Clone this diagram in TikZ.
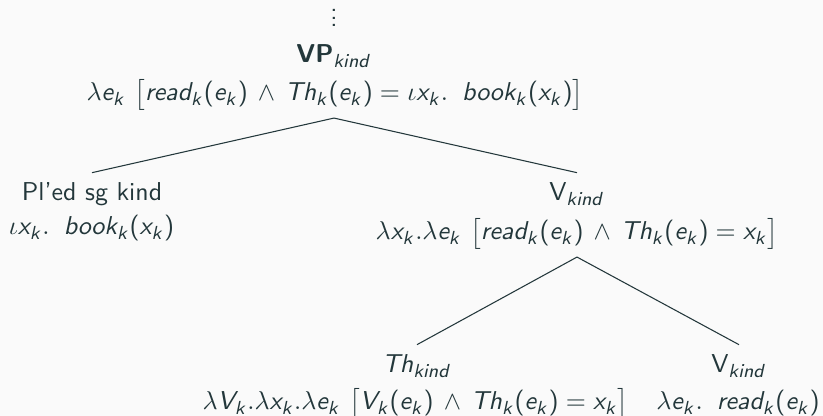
\documentclass[tikz,border=0pt,11pt]{standalone}
\usepackage{amsmath}
\usepackage{tikz}
% sans serif math: upright symbols and italic letters from cmss
\DeclareSymbolFont{operators}{OT1}{cmss}{m}{n}
\DeclareSymbolFont{sfitalic}{OT1}{cmss}{m}{it}
\newcount\lettercnt
\lettercnt=`a
\loop
  \mathcode\lettercnt=\numexpr "7000+\symsfitalic*"100+\lettercnt\relax
  \advance\lettercnt by 1
\ifnum\lettercnt<`\{ \repeat
\lettercnt=`A
\loop
  \mathcode\lettercnt=\numexpr "7000+\symsfitalic*"100+\lettercnt\relax
  \advance\lettercnt by 1
\ifnum\lettercnt<`\[ \repeat
\newcommand{\conj}{\,\wedge\,}
\newcommand{\dotgap}{\hspace{6pt}}
\definecolor{mDarkTeal}{HTML}{23373B}
\definecolor{mBack}{HTML}{FAFAFA}
\tikzset{
  cat/.style={anchor=base, inner sep=4.2pt, font=\sffamily, text=mDarkTeal},
  sem/.style={anchor=base, inner sep=3.2pt, font=\sffamily, text=mDarkTeal},
  branch/.style={draw=mDarkTeal, line width=0.45pt},
}

\begin{document}
\begin{tikzpicture}[x=0.4237pt, y=-0.4237pt]
  % frame
  \fill[mBack] (0,0) rectangle (823,416);
  \useasboundingbox (0,0) rectangle (823,416);
  % root VP
  \node[cat, inner sep=0pt] (dots) at (334,27) {\vbox{\baselineskip=3.2pt\lineskiplimit=0pt\hbox{.}\hbox{.}\hbox{.}}};
  \node[cat] (vp) at (334,63) {\textbf{VP}$_{kind}$};
  \node[sem] (vpsem) at (335,101) {$\lambda e_k\ \big[read_k(e_k)\conj Th_k(e_k) = \iota x_k.\dotgap book_k(x_k)\big]$};
  % left daughter
  \node[cat] (pled) at (92,201) {Pl'ed sg kind};
  \node[sem] (pledsem) at (91.5,235) {$\iota x_k.\dotgap book_k(x_k)$};
  % right daughter
  \node[cat] (vk) at (577,201) {V$_{kind}$};
  \node[sem] (vksem) at (577,240) {$\lambda x_k.\lambda e_k\ \big[read_k(e_k)\conj Th_k(e_k) = x_k\big]$};
  % lower daughters
  \node[cat] (th) at (417,373) {$Th_{kind}$};
  \node[sem] (thsem) at (415.5,410) {$\lambda V_k.\lambda x_k.\lambda e_k\ \big[V_k(e_k)\conj Th_k(e_k) = x_k\big]$};
  \node[cat] (vlow) at (739,373) {V$_{kind}$};
  \node[sem] (vlowsem) at (738,410) {$\lambda e_k.\dotgap read_k(e_k)$};
  % branches
  \draw[branch] (vp |- vpsem.south) -- (pled.north);
  \draw[branch] (vp |- vpsem.south) -- (vk.north);
  \draw[branch] (vk |- vksem.south) -- (th.north);
  \draw[branch] (vk |- vksem.south) -- (vlow.north);
\end{tikzpicture}
\end{document}
